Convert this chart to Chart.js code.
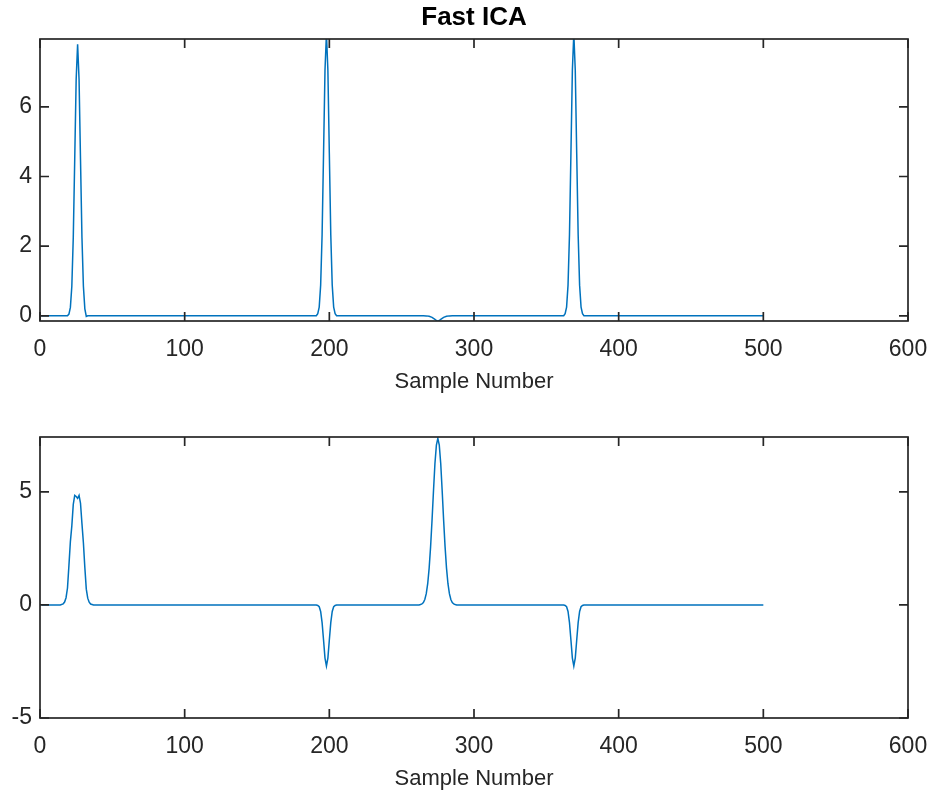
<!DOCTYPE html>
<html>
<head>
<meta charset="utf-8">
<script src="https://cdn.jsdelivr.net/npm/chart.js@4.4.0/dist/chart.umd.min.js"></script>
<style>
  body { margin: 0; background: #fff; }
  canvas { position: absolute; left: 0; }
  #topChart { top: 0; }
  #bottomChart { top: 400px; }
</style>
</head>
<body>
<canvas id="topChart" width="928" height="400"></canvas>
<canvas id="bottomChart" width="928" height="393"></canvas>
<script>
// x ticks shared by both panels
const xTicks = [0, 100, 200, 300, 400, 500, 600];
const topYTicks = [0, 2, 4, 6];
const bottomYTicks = [-5, 0, 5];

// top panel samples (sample number / value)
const topX = [1, 19, 20, 21, 22, 23, 24, 25, 26, 27, 28, 29, 30, 31, 32, 33,
  191, 192, 193, 194, 195, 196, 197, 198, 199, 200, 201, 202, 203, 204, 205,
  265, 267, 269, 271, 273, 274, 275, 276, 277, 279, 281, 283, 285,
  362, 363, 364, 365, 366, 367, 368, 369, 370, 371, 372, 373, 374, 375, 376, 500];
const topY = [0, 0, 0.05, 0.24, 0.85, 2.25, 4.49, 6.79, 7.8, 6.79, 4.49, 2.25, 0.85, 0.2, -0.02, 0,
  0, 0.06, 0.25, 0.88, 2.33, 4.66, 7.05, 8.1, 7.05, 4.66, 2.33, 0.88, 0.25, 0.06, 0,
  0, -0.003, -0.015, -0.045, -0.1, -0.135, -0.16, -0.135, -0.1, -0.045, -0.015, -0.003, 0,
  0, 0.06, 0.25, 0.88, 2.33, 4.66, 7.05, 8.1, 7.05, 4.66, 2.33, 0.88, 0.25, 0.06, 0, 0];

// bottom panel samples
const bottomX = [1, 14, 16, 17, 18, 19, 20, 21, 22, 23, 24, 25, 26, 27, 28, 29, 30, 31, 32, 33, 34, 35, 37,
  191, 192, 193, 194, 195, 196, 197, 198, 199, 200, 201, 202, 203, 204, 205,
  262, 263, 264, 265, 266, 267, 268, 269, 270, 271, 272, 273, 274, 275, 276, 277, 278, 279, 280, 281, 282, 283, 284, 285, 286, 287, 288,
  362, 363, 364, 365, 366, 367, 368, 369, 370, 371, 372, 373, 374, 375, 376, 500];
const bottomY = [0, 0, 0.05, 0.13, 0.32, 0.75, 1.75, 2.8, 3.5, 4.45, 4.85, 4.8, 4.72, 4.85, 4.5, 3.6, 2.75, 1.65, 0.7, 0.3, 0.12, 0.04, 0,
  0, -0.02, -0.08, -0.29, -0.78, -1.55, -2.35, -2.7, -2.35, -1.55, -0.78, -0.29, -0.08, -0.02, 0,
  0, 0.02, 0.045, 0.11, 0.24, 0.5, 0.94, 1.63, 2.58, 3.76, 5.05, 6.26, 7.07, 7.37, 7.07, 6.26, 5.05, 3.76, 2.58, 1.63, 0.94, 0.5, 0.24, 0.11, 0.045, 0.02, 0,
  0, -0.02, -0.08, -0.29, -0.78, -1.55, -2.35, -2.7, -2.35, -1.55, -0.78, -0.29, -0.08, -0.02, 0, 0];

const ink = '#262626';
Chart.defaults.font.family = '"Liberation Sans", Arial, sans-serif';
Chart.defaults.color = ink;

// MATLAB style box with inward ticks on all four sides
const boxPlugin = {
  id: 'box',
  afterDraw(chart) {
    const c = chart.ctx;
    const a = chart.chartArea;
    const xs = chart.scales.x, ys = chart.scales.y;
    const len = 9;
    c.save();
    c.strokeStyle = ink;
    c.lineWidth = 1.7;
    c.strokeRect(a.left, a.top, a.right - a.left, a.bottom - a.top);
    c.beginPath();
    xs.ticks.forEach(t => {
      const px = xs.getPixelForValue(t.value);
      c.moveTo(px, a.bottom); c.lineTo(px, a.bottom - len);
      c.moveTo(px, a.top); c.lineTo(px, a.top + len);
    });
    ys.ticks.forEach(t => {
      const py = ys.getPixelForValue(t.value);
      c.moveTo(a.left, py); c.lineTo(a.left + len, py);
      c.moveTo(a.right, py); c.lineTo(a.right - len, py);
    });
    c.stroke();
    c.restore();
  }
};

function noPad(s) {
  s.paddingLeft = 0; s.paddingRight = 0; s.paddingTop = 0; s.paddingBottom = 0;
}

function makeChart(id, xs, ys, yMin, yMax, yTicks, title, padTop, xAxisH, labelPad) {
  new Chart(document.getElementById(id), {
    type: 'line',
    data: {
      datasets: [{
        data: xs.map((x, i) => ({ x: x, y: ys[i] })),
        borderColor: '#0072BD',
        borderWidth: 1.5,
        pointRadius: 0,
        tension: 0,
        fill: false,
        clip: 0
      }]
    },
    options: {
      responsive: false,
      animation: false,
      layout: { padding: { left: 0, right: 20, top: padTop, bottom: 0 } },
      plugins: {
        legend: { display: false },
        tooltip: { enabled: false },
        title: {
          display: !!title,
          text: title,
          fullSize: false,
          color: '#000',
          font: { size: 26, weight: 'bold', lineHeight: 1 },
          padding: { top: 5, bottom: 8 }
        }
      },
      scales: {
        x: {
          type: 'linear',
          min: 0,
          max: 600,
          afterBuildTicks: s => { s.ticks = xTicks.map(v => ({ value: v })); },
          afterFit: s => { s.height = xAxisH; noPad(s); },
          grid: { display: false, drawTicks: false },
          border: { display: false },
          ticks: { padding: 15, font: { size: 23 }, maxRotation: 0, autoSkip: false },
          title: { display: true, text: 'Sample Number', font: { size: 22 }, padding: labelPad }
        },
        y: {
          type: 'linear',
          min: yMin,
          max: yMax,
          afterBuildTicks: s => { s.ticks = yTicks.map(v => ({ value: v })); },
          afterFit: s => { s.width = 40; noPad(s); },
          grid: { display: false, drawTicks: false },
          border: { display: false },
          ticks: { padding: 8, font: { size: 23 } }
        }
      }
    },
    plugins: [boxPlugin]
  });
}

makeChart('topChart', topX, topY, -0.15, 7.95, topYTicks, 'Fast ICA', 0, 79, { top: 5, bottom: 5 });
makeChart('bottomChart', bottomX, bottomY, -5, 7.43, bottomYTicks, '', 37, 75, { top: 1, bottom: 1 });
</script>
</body>
</html>
